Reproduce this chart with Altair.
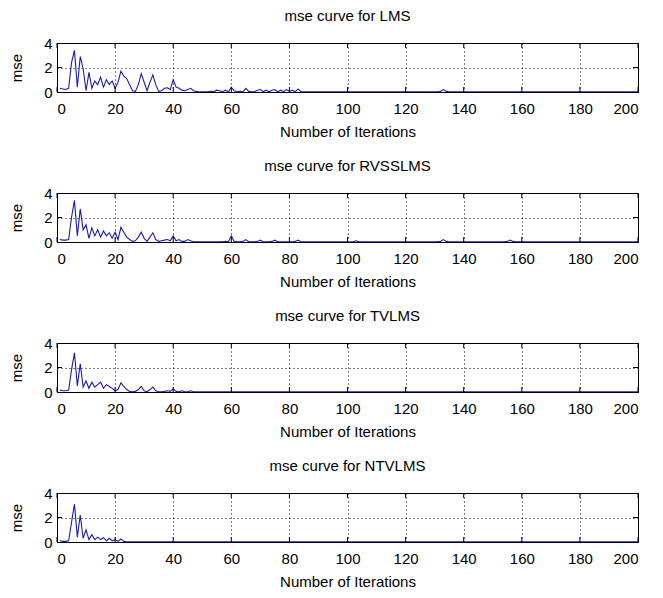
import altair as alt
import pandas as pd

titles = ["mse curve for LMS", "mse curve for RVSSLMS", "mse curve for TVLMS", "mse curve for NTVLMS"]
x_ticks = [0, 20, 40, 60, 80, 100, 120, 140, 160, 180, 200]
y_ticks = [0, 2, 4]
iterations = list(range(1, 201))

lms = [
    0.30, 0.25, 0.20, 0.30, 2.40, 3.40, 0.40, 2.90, 1.90, 0.10, 1.60, 0.30, 0.90, 0.60, 1.20, 0.40, 1.00, 0.60, 0.90, 0.30,
    0.80, 1.70, 1.30, 1.10, 0.60, 0.10, 0.05, 0.60, 1.50, 0.80, 0.10, 0.80, 1.40, 0.60, 0.05, 0.10, 0.30, 0.35, 0.20, 1.00,
    0.40, 0.30, 0.15, 0.10, 0.20, 0.30, 0.10, 0.05, 0.02, 0.02, 0.02, 0.02, 0.05, 0.02, 0.15, 0.10, 0.02, 0.15, 0.02, 0.40,
    0.10, 0.02, 0.05, 0.02, 0.30, 0.05, 0.02, 0.02, 0.15, 0.20, 0.02, 0.15, 0.02, 0.15, 0.20, 0.02, 0.15, 0.02, 0.20, 0.05,
    0.15, 0.02, 0.25, 0.02, 0.02, 0.01, 0.01, 0.01, 0.01, 0.01, 0.01, 0.01, 0.01, 0.01, 0.01, 0.01, 0.01, 0.01, 0.01, 0.01,
    0.01, 0.01, 0.01, 0.01, 0.01, 0.01, 0.01, 0.01, 0.01, 0.01, 0.01, 0.01, 0.01, 0.01, 0.01, 0.01, 0.01, 0.01, 0.01, 0.01,
    0.01, 0.01, 0.01, 0.01, 0.01, 0.01, 0.01, 0.01, 0.01, 0.01, 0.01, 0.05, 0.20, 0.05, 0.01, 0.01, 0.01, 0.01, 0.01, 0.01,
    0.01, 0.01, 0.01, 0.01, 0.01, 0.01, 0.01, 0.01, 0.01, 0.01, 0.01, 0.01, 0.01, 0.01, 0.01, 0.01, 0.01, 0.01, 0.01, 0.01,
    0.01, 0.01, 0.01, 0.01, 0.01, 0.01, 0.01, 0.01, 0.01, 0.01, 0.01, 0.01, 0.01, 0.01, 0.01, 0.01, 0.01, 0.01, 0.01, 0.01,
    0.01, 0.01, 0.01, 0.01, 0.01, 0.01, 0.01, 0.01, 0.01, 0.01, 0.01, 0.01, 0.01, 0.01, 0.01, 0.01, 0.01, 0.01, 0.01, 0.01,
]

rvsslms = [
    0.20, 0.15, 0.15, 0.20, 2.00, 3.40, 0.50, 2.70, 1.00, 1.40, 0.30, 1.15, 0.50, 1.00, 0.40, 0.90, 0.50, 0.75, 0.30, 0.80,
    0.20, 1.20, 0.80, 0.40, 0.20, 0.05, 0.10, 0.40, 0.80, 0.30, 0.05, 0.40, 0.75, 0.20, 0.05, 0.10, 0.15, 0.20, 0.10, 0.50,
    0.10, 0.20, 0.05, 0.05, 0.20, 0.10, 0.02, 0.02, 0.02, 0.02, 0.02, 0.02, 0.02, 0.02, 0.02, 0.02, 0.02, 0.05, 0.02, 0.50,
    0.05, 0.02, 0.02, 0.05, 0.20, 0.02, 0.02, 0.02, 0.05, 0.15, 0.02, 0.02, 0.02, 0.05, 0.15, 0.02, 0.02, 0.02, 0.02, 0.02,
    0.02, 0.05, 0.15, 0.02, 0.01, 0.01, 0.01, 0.01, 0.01, 0.01, 0.01, 0.01, 0.01, 0.01, 0.01, 0.01, 0.01, 0.01, 0.01, 0.01,
    0.01, 0.01, 0.10, 0.01, 0.01, 0.01, 0.01, 0.01, 0.01, 0.01, 0.01, 0.01, 0.01, 0.01, 0.01, 0.01, 0.01, 0.01, 0.01, 0.01,
    0.01, 0.01, 0.01, 0.01, 0.01, 0.01, 0.01, 0.01, 0.01, 0.01, 0.01, 0.05, 0.20, 0.05, 0.01, 0.01, 0.01, 0.01, 0.01, 0.01,
    0.01, 0.01, 0.01, 0.01, 0.01, 0.01, 0.01, 0.01, 0.01, 0.01, 0.01, 0.01, 0.01, 0.01, 0.05, 0.15, 0.05, 0.01, 0.01, 0.01,
    0.01, 0.01, 0.01, 0.01, 0.01, 0.01, 0.01, 0.01, 0.01, 0.01, 0.01, 0.01, 0.01, 0.01, 0.01, 0.01, 0.01, 0.01, 0.01, 0.01,
    0.01, 0.01, 0.01, 0.01, 0.01, 0.01, 0.01, 0.01, 0.01, 0.01, 0.01, 0.01, 0.01, 0.01, 0.01, 0.01, 0.01, 0.01, 0.01, 0.01,
]

tvlms = [
    0.15, 0.10, 0.10, 0.15, 1.80, 3.20, 0.50, 2.30, 0.40, 0.90, 0.30, 0.80, 0.40, 0.60, 0.80, 0.30, 0.60, 0.45, 0.30, 0.10,
    0.20, 0.75, 0.45, 0.20, 0.05, 0.02, 0.05, 0.20, 0.45, 0.10, 0.02, 0.20, 0.40, 0.10, 0.02, 0.02, 0.05, 0.10, 0.05, 0.25,
    0.05, 0.02, 0.10, 0.02, 0.02, 0.10, 0.02, 0.01, 0.01, 0.01, 0.01, 0.01, 0.01, 0.01, 0.01, 0.01, 0.01, 0.01, 0.01, 0.01,
    0.01, 0.01, 0.01, 0.01, 0.01, 0.01, 0.01, 0.01, 0.01, 0.01, 0.01, 0.01, 0.01, 0.01, 0.01, 0.01, 0.01, 0.01, 0.01, 0.01,
    0.01, 0.01, 0.01, 0.01, 0.01, 0.01, 0.01, 0.01, 0.01, 0.01, 0.01, 0.01, 0.01, 0.01, 0.01, 0.01, 0.01, 0.01, 0.01, 0.01,
    0.01, 0.01, 0.01, 0.01, 0.01, 0.01, 0.01, 0.01, 0.01, 0.01, 0.01, 0.01, 0.01, 0.01, 0.01, 0.01, 0.01, 0.01, 0.01, 0.01,
    0.01, 0.01, 0.01, 0.01, 0.01, 0.01, 0.01, 0.01, 0.01, 0.01, 0.01, 0.01, 0.01, 0.01, 0.01, 0.01, 0.01, 0.01, 0.01, 0.01,
    0.01, 0.01, 0.01, 0.01, 0.01, 0.01, 0.01, 0.01, 0.01, 0.01, 0.01, 0.01, 0.01, 0.01, 0.01, 0.01, 0.01, 0.01, 0.01, 0.01,
    0.01, 0.01, 0.01, 0.01, 0.01, 0.01, 0.01, 0.01, 0.01, 0.01, 0.01, 0.01, 0.01, 0.01, 0.01, 0.01, 0.01, 0.01, 0.01, 0.01,
    0.01, 0.01, 0.01, 0.01, 0.01, 0.01, 0.01, 0.01, 0.01, 0.01, 0.01, 0.01, 0.01, 0.01, 0.01, 0.01, 0.01, 0.01, 0.01, 0.01,
]

ntvlms = [
    0.10, 0.05, 0.05, 0.10, 1.60, 3.10, 0.40, 2.20, 0.30, 1.00, 0.20, 0.60, 0.20, 0.40, 0.20, 0.35, 0.10, 0.30, 0.10, 0.20,
    0.05, 0.25, 0.05, 0.02, 0.01, 0.01, 0.01, 0.01, 0.01, 0.01, 0.01, 0.01, 0.01, 0.01, 0.01, 0.01, 0.01, 0.01, 0.01, 0.01,
    0.01, 0.01, 0.01, 0.01, 0.01, 0.01, 0.01, 0.01, 0.01, 0.01, 0.01, 0.01, 0.01, 0.01, 0.01, 0.01, 0.01, 0.01, 0.01, 0.01,
    0.01, 0.01, 0.01, 0.01, 0.01, 0.01, 0.01, 0.01, 0.01, 0.01, 0.01, 0.01, 0.01, 0.01, 0.01, 0.01, 0.01, 0.01, 0.01, 0.01,
    0.01, 0.01, 0.01, 0.01, 0.01, 0.01, 0.01, 0.01, 0.01, 0.01, 0.01, 0.01, 0.01, 0.01, 0.01, 0.01, 0.01, 0.01, 0.01, 0.01,
    0.01, 0.01, 0.01, 0.01, 0.01, 0.01, 0.01, 0.01, 0.01, 0.01, 0.01, 0.01, 0.01, 0.01, 0.01, 0.01, 0.01, 0.01, 0.01, 0.01,
    0.01, 0.01, 0.01, 0.01, 0.01, 0.01, 0.01, 0.01, 0.01, 0.01, 0.01, 0.01, 0.01, 0.01, 0.01, 0.01, 0.01, 0.01, 0.01, 0.01,
    0.01, 0.01, 0.01, 0.01, 0.01, 0.01, 0.01, 0.01, 0.01, 0.01, 0.01, 0.01, 0.01, 0.01, 0.01, 0.01, 0.01, 0.01, 0.01, 0.01,
    0.01, 0.01, 0.01, 0.01, 0.01, 0.01, 0.01, 0.01, 0.01, 0.01, 0.01, 0.01, 0.01, 0.01, 0.01, 0.01, 0.01, 0.01, 0.01, 0.01,
    0.01, 0.01, 0.01, 0.01, 0.01, 0.01, 0.01, 0.01, 0.01, 0.01, 0.01, 0.01, 0.01, 0.01, 0.01, 0.01, 0.01, 0.01, 0.01, 0.01,
]

series = [lms, rvsslms, tvlms, ntvlms]

W = 581
H = 49
LINE = "#1c1cb4"
FONT = "Liberation Sans"

x_scale = alt.Scale(domain=[0, 200], nice=False, zero=False)
y_scale = alt.Scale(domain=[0, 4], nice=False)

x_axis = alt.Axis(values=x_ticks, title="Number of Iterations", grid=True,
                  gridDash=[1, 3], gridColor="#000000", gridOpacity=1, gridWidth=1,
                  ticks=False, domain=False, labelPadding=9, titlePadding=8)
y_axis = alt.Axis(values=y_ticks, title="mse", grid=True,
                  gridDash=[1, 3], gridColor="#000000", gridOpacity=1, gridWidth=1,
                  ticks=False, domain=False, labelPadding=5, titlePadding=19)

xtick_df = pd.DataFrame({"iter": x_ticks})
ytick_df = pd.DataFrame({"mse": [2]})


def panel(title, values):
    df = pd.DataFrame({"iter": iterations, "mse": values})
    line = alt.Chart(df).mark_line(color=LINE, strokeWidth=1.1, clip=True).encode(
        x=alt.X("iter:Q", scale=x_scale, axis=x_axis),
        y=alt.Y("mse:Q", scale=y_scale, axis=y_axis),
    )
    bot = alt.Chart(xtick_df).mark_rule(color="black").encode(
        x=alt.X("iter:Q", scale=x_scale, axis=x_axis), y=alt.value(H), y2=alt.value(H - 5))
    top = alt.Chart(xtick_df).mark_rule(color="black").encode(
        x=alt.X("iter:Q", scale=x_scale, axis=x_axis), y=alt.value(0), y2=alt.value(5))
    left = alt.Chart(ytick_df).mark_rule(color="black").encode(
        y=alt.Y("mse:Q", scale=y_scale, axis=y_axis), x=alt.value(0), x2=alt.value(5))
    right = alt.Chart(ytick_df).mark_rule(color="black").encode(
        y=alt.Y("mse:Q", scale=y_scale, axis=y_axis), x=alt.value(W - 5), x2=alt.value(W))
    return alt.layer(line, bot, top, left, right).properties(
        width=W, height=H,
        title=alt.TitleParams(title, fontSize=15, font=FONT, fontWeight="normal",
                              color="black", offset=12, anchor="middle"))


chart = alt.vconcat(*[panel(t, s) for t, s in zip(titles, series)], spacing=18).configure_view(
    stroke="black", strokeWidth=1
).configure_axis(
    labelFont=FONT, titleFont=FONT, labelFontSize=15, titleFontSize=15,
    labelColor="black", titleColor="black", titleFontWeight="normal"
).properties(
    background="white", padding={"left": 1, "top": 0, "right": 5, "bottom": 0}
)

chart.save("out.html", embed_options={"renderer": "svg", "actions": False})
